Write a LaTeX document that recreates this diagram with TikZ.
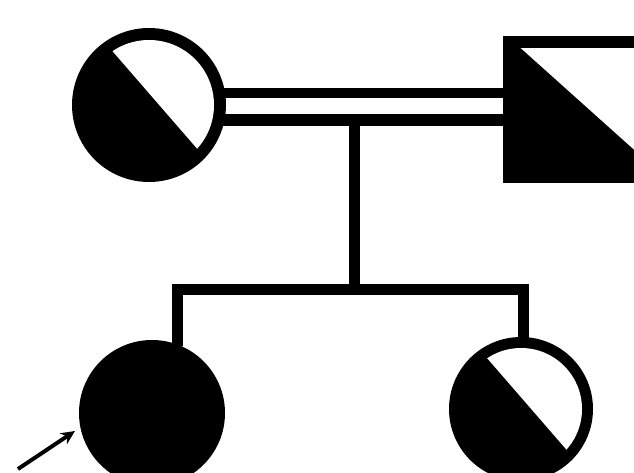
\documentclass[tikz,border=0pt]{standalone}
\usetikzlibrary{arrows.meta}
\begin{document}
\begin{tikzpicture}[x=1pt,y=-1pt,
  ring/.style={line width=12pt,draw=black},
  link/.style={line width=11pt,draw=black,line cap=butt},
  probarrow/.style={line width=4pt,draw=black,-{Stealth[length=14pt,width=13pt]}}]
\useasboundingbox (0,0) rectangle (634,473);
\clip (0,0) rectangle (634,473);
% named anchor points
\coordinate (mc) at (149,105);
\coordinate (dc) at (521,409);
\coordinate (pc) at (152,413);
\coordinate (mU) at (218,93);
\coordinate (mL) at (218,120);
\coordinate (fU) at (510,93);
\coordinate (fL) at (510,120);
\coordinate (mid) at (354,120);
\coordinate (sib) at (354,289);
\coordinate (sibL) at (177,289);
\coordinate (sibR) at (523,289);
\coordinate (pTop) at (177,346);
\coordinate (dTop) at (523,340);
\coordinate (arrTail) at (18,469);
\coordinate (arrTip) at (75,431);
% mother: half-shaded circle
\fill[black] (mc) circle (77);
\begin{scope}
  \clip (mc) circle (65);
  \fill[white] (23,-52) -- (285,250) -- (436,119) -- (174,-183) -- cycle;
\end{scope}
% father: half-shaded square
\fill[black] (507,36) -- (671,183) -- (503,183) -- cycle;
\draw[ring] (509,42) rectangle (644,177);
% proband: filled circle
\fill[black] (pc) circle (73);
% daughter: half-shaded circle
\fill[black] (dc) circle (72);
\begin{scope}
  \clip (dc) circle (61);
  \fill[white] (395,252) -- (657,554) -- (808,423) -- (546,121) -- cycle;
\end{scope}
% consanguineous marriage
\draw[link,line width=10pt] (mU) -- (fU);
\draw[link,line width=12pt] (mL) -- (fL);
% descent
\draw[link] (mid) -- (sib);
\draw[link,line cap=rect] (sibL) -- (sibR);
\draw[link] (sibL) -- (pTop);
\draw[link] (sibR) -- (dTop);
% proband arrow
\draw[probarrow] (arrTail) -- (arrTip);
\end{tikzpicture}
\end{document}
